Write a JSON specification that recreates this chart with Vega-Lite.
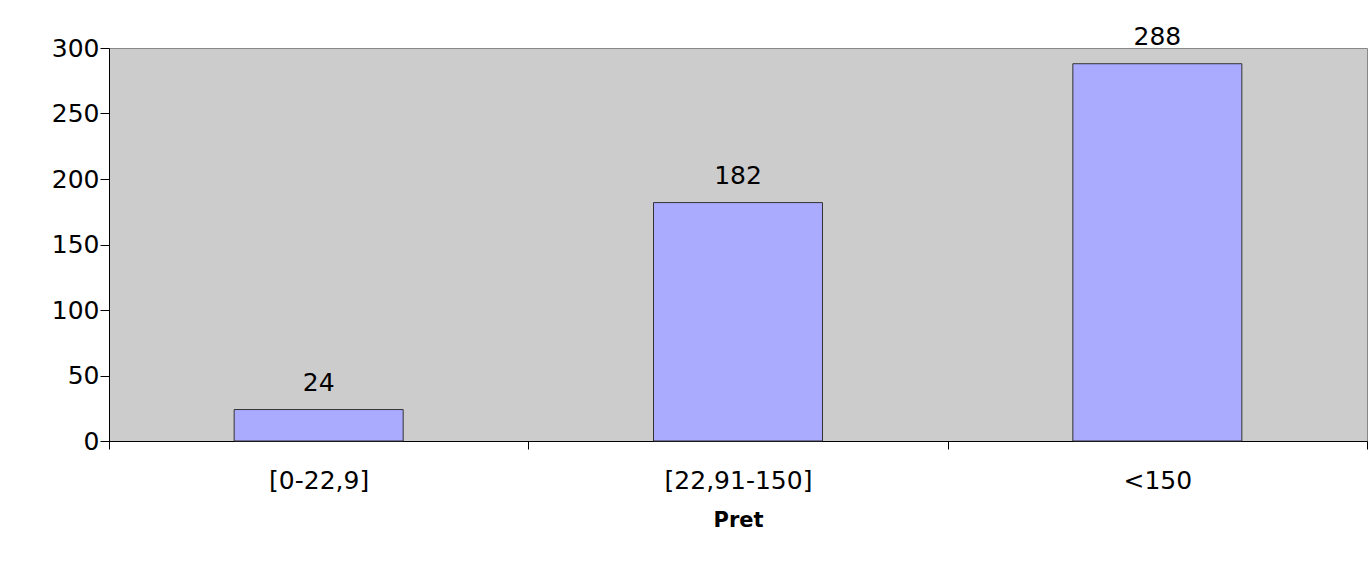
{
  "$schema": "https://vega.github.io/schema/vega-lite/v6.json",
  "autosize": {"type": "none"},
  "width": 1258,
  "height": 393,
  "padding": {"left": 109, "top": 48, "right": 1, "bottom": 120},
  "background": "white",
  "data": {"values": [
    {"Pret": "[0-22,9]", "count": 24},
    {"Pret": "[22,91-150]", "count": 182},
    {"Pret": "<150", "count": 288}
  ]},
  "encoding": {
    "x": {"field": "Pret", "type": "nominal", "sort": null,
      "scale": {"paddingInner": 0, "paddingOuter": 0},
      "axis": {"title": "Pret", "labelAngle": 0, "labelFont": "DejaVu Sans", "labelFontSize": 25, "labelFontWeight": "normal", "labelColor": "black", "labelPadding": 19,
        "titleFont": "DejaVu Sans", "titleFontSize": 21, "titleFontWeight": "bold", "titleColor": "black", "titlePadding": 16,
        "tickBand": "extent", "tickSize": 8, "tickColor": "black", "domainColor": "black", "ticks": true}},
    "y": {"field": "count", "type": "quantitative",
      "scale": {"domain": [0, 300], "nice": false},
      "axis": {"title": null, "values": [0, 50, 100, 150, 200, 250, 300], "grid": false, "labelFont": "DejaVu Sans", "labelFontSize": 25, "labelFontWeight": "normal", "labelColor": "black", "labelPadding": 1,
        "tickSize": 9, "tickColor": "black", "domainColor": "black"}}
  },
  "layer": [
    {"mark": {"type": "bar", "width": {"band": 0.403}, "fill": "#aaaaff", "stroke": "#333333", "strokeWidth": 1}},
    {"mark": {"type": "text", "dy": -27, "font": "DejaVu Sans", "fontSize": 25, "fontWeight": "normal", "color": "black"},
      "encoding": {"text": {"field": "count", "type": "quantitative"}}}
  ],
  "config": {"view": {"fill": "#cccccc", "stroke": "#888888", "strokeWidth": 1}}
}
